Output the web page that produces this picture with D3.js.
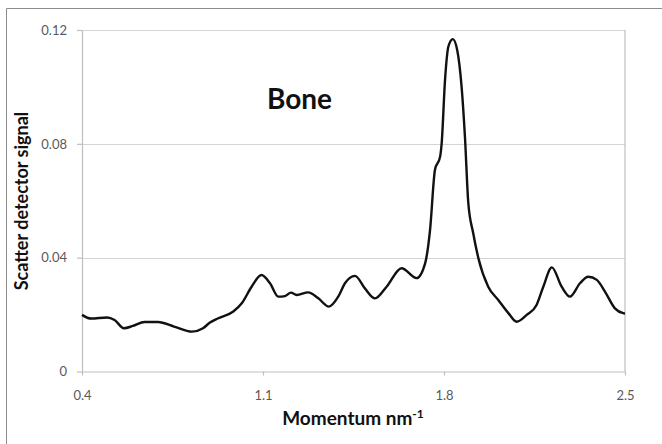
<!DOCTYPE html>
<html>
<head>
<meta charset="utf-8">
<script src="https://cdn.jsdelivr.net/npm/d3@7"></script>
<style>
  body { margin: 0; background: #fff; }
  svg { font-family: Lato, "Open Sans", sans-serif; }
</style>
</head>
<body>
<svg width="662" height="444"></svg>
<script>
// momentum (nm^-1) and scatter signal
var momentum = [0.400, 0.435, 0.497, 0.526, 0.562, 0.597, 0.642, 0.694, 0.756, 0.825,
    0.868, 0.895, 0.927, 0.985, 1.018, 1.056, 1.094, 1.127, 1.159, 1.185,
    1.208, 1.230, 1.275, 1.314, 1.355, 1.391, 1.417, 1.456, 1.494, 1.533,
    1.578, 1.636, 1.694, 1.727, 1.746, 1.765, 1.785, 1.791, 1.804, 1.817,
    1.834, 1.851, 1.868, 1.881, 1.894, 1.913, 1.933, 1.971, 2.010, 2.049,
    2.081, 2.120, 2.158, 2.184, 2.217, 2.255, 2.287, 2.326, 2.358, 2.391,
    2.423, 2.461, 2.493, 2.500];
var signal = [0.0199, 0.0186, 0.0190, 0.0181, 0.0152, 0.0160, 0.0174, 0.0174, 0.0158, 0.0140,
    0.0152, 0.0172, 0.0187, 0.0211, 0.0240, 0.0298, 0.0339, 0.0310, 0.0263, 0.0265,
    0.0277, 0.0269, 0.0278, 0.0257, 0.0228, 0.0263, 0.0310, 0.0336, 0.0292, 0.0257,
    0.0298, 0.0363, 0.0328, 0.0380, 0.0497, 0.0708, 0.0755, 0.0802, 0.1025, 0.1142,
    0.1168, 0.1130, 0.1001, 0.0825, 0.0592, 0.0486, 0.0398, 0.0298, 0.0251, 0.0205,
    0.0175, 0.0199, 0.0234, 0.0298, 0.0366, 0.0298, 0.0263, 0.0310, 0.0333, 0.0322,
    0.0280, 0.0222, 0.0205, 0.0204];
var xTicks = [0.4, 1.1, 1.8, 2.5];
var yTicks = [0, 0.04, 0.08, 0.12];

var svg = d3.select('svg');

// outer chart border (top and left visible)
svg.append('path')
    .attr('d', 'M6.5,444 V8.5 H662')
    .attr('fill', 'none')
    .attr('stroke', '#8c8c8c')
    .attr('stroke-width', 1);

var scaleX = d3.scaleLinear().domain([0.4, 2.5]).range([82, 625]);
var scaleY = d3.scaleLinear().domain([0, 0.12]).range([371.5, 30]);

var g = svg.append('g');

// horizontal gridlines
g.selectAll('line.grid')
    .data(yTicks.slice(1))
    .enter()
    .append('line')
    .attr('class', 'grid')
    .attr('x1', scaleX(0.4))
    .attr('x2', scaleX(2.5))
    .attr('y1', function(d){ return Math.round(scaleY(d)) + 0.5; })
    .attr('y2', function(d){ return Math.round(scaleY(d)) + 0.5; })
    .attr('stroke', '#d4d4d4')
    .attr('stroke-width', 1.2);

// right edge of plot area
g.append('line')
    .attr('x1', scaleX(2.5)).attr('x2', scaleX(2.5))
    .attr('y1', scaleY(0.12)).attr('y2', scaleY(0))
    .attr('stroke', '#bfbfbf')
    .attr('stroke-width', 1.2);

var xAxis = g.append('g')
    .attr('transform', 'translate(0,' + scaleY(0) + ')')
    .call(d3.axisBottom(scaleX).tickValues(xTicks).tickSize(4).tickSizeOuter(0)
        .tickFormat(d3.format('.1f')));

var yAxis = g.append('g')
    .attr('transform', 'translate(' + scaleX(0.4) + ',0)')
    .call(d3.axisLeft(scaleY).tickValues(yTicks).tickSize(5).tickSizeOuter(0)
        .tickFormat(function(d){ return d === 0 ? '0' : d3.format('.2f')(d); }));

[xAxis, yAxis].forEach(function(ax) {
    ax.select('.domain').attr('stroke', '#bfbfbf').attr('stroke-width', 1.2);
    ax.selectAll('.tick line').attr('stroke', '#bfbfbf').attr('stroke-width', 1.2);
    ax.selectAll('.tick text')
        .attr('fill', '#595959')
        .attr('font-size', 13)
        .attr('font-family', 'Lato, sans-serif');
});
xAxis.selectAll('.tick text').attr('dy', null).attr('y', 0).attr('transform', 'translate(0,28)');
yAxis.selectAll('.tick text').attr('x', -15);

var line = d3.line()
    .x(function(d, i){ return scaleX(momentum[i]); })
    .y(function(d){ return scaleY(d); })
    .curve(d3.curveMonotoneX);

g.append('path')
    .datum(signal)
    .attr('d', line)
    .attr('fill', 'none')
    .attr('stroke', '#111')
    .attr('stroke-width', 2.4)
    .attr('stroke-linejoin', 'round');

svg.append('text')
    .attr('x', 267)
    .attr('y', 109)
    .attr('font-size', 28)
    .attr('font-weight', 'bold')
    .attr('fill', '#111')
    .text('Bone');

var xt = svg.append('text')
    .attr('x', 353)
    .attr('y', 425)
    .attr('text-anchor', 'middle')
    .attr('font-size', 19)
    .attr('font-weight', 'bold')
    .attr('fill', '#111');
xt.append('tspan').text('Momentum nm');
xt.append('tspan').attr('dy', -7).attr('font-size', 12).text('-1');

svg.append('text')
    .attr('transform', 'translate(28,201) rotate(270)')
    .attr('text-anchor', 'middle')
    .attr('font-size', 18)
    .attr('font-weight', 'bold')
    .attr('fill', '#111')
    .text('Scatter detector signal');
</script>
</body>
</html>
